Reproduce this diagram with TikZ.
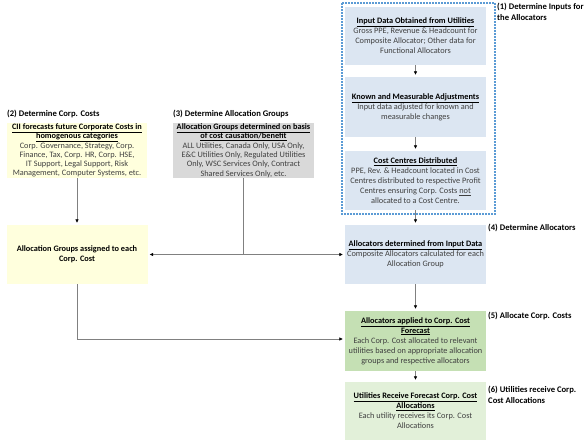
\documentclass[tikz,border=0pt]{standalone}
\usepackage{fontspec}
\setmainfont{Carlito}
\usepackage{tikz}
\usetikzlibrary{arrows.meta, calc}
\definecolor{boxBlue}{HTML}{DCE6F2}
\definecolor{boxYellow}{HTML}{FFFFDD}
\definecolor{boxGray}{HTML}{D9D9D9}
\definecolor{boxGreen}{HTML}{C5E0B4}
\definecolor{boxPale}{HTML}{E2F0D9}
\definecolor{frameBlue}{HTML}{5B9BD5}
\definecolor{bodyGray}{HTML}{404040}
\newcommand{\hd}[1]{\textbf{\underline{#1}}}

\begin{document}
\begin{tikzpicture}[x=1pt, y=-1pt,
  every node/.style={inner sep=0pt, font=\fontsize{8.3}{10}\selectfont},
  stepbox/.style={rectangle, minimum width=141pt, minimum height=59pt, align=center, text=bodyGray},
  steplabel/.style={anchor=west, align=left, font=\fontsize{8.6}{11}\selectfont\bfseries},
  link/.style={draw=black!50, line width=0.6pt, shorten >=2pt, -{Latex[black, length=3.5pt, width=3.5pt]}},
  feedline/.style={draw=black!50, line width=0.6pt}]
  \useasboundingbox (0,0) rectangle (587,447);

  % (1) inputs
  \draw[frameBlue, line width=1.1pt, dash pattern=on 2pt off 1pt] (342,3) rectangle (495,214);
  \node[stepbox, fill=boxBlue, minimum height=58pt] (inp) at (415.5,36)
    {\textcolor{black}{\hd{Input Data Obtained from Utilities}}\\Gross PPE, Revenue \& Headcount for\\Composite Allocator; Other data for\\Functional Allocators};
  \node[stepbox, fill=boxBlue, minimum height=60pt] (kma) at (415.5,107)
    {\textcolor{black}{\hd{Known and Measurable Adjustments}}\\Input data adjusted for known and\\measurable changes};
  \node[stepbox, fill=boxBlue] (ccd) at (415.5,180.5)
    {\textcolor{black}{\hd{Cost Centres Distributed}}\\PPE, Rev. \& Headcount located in Cost\\Centres distributed to respective Profit\\Centres ensuring Corp. Costs \underline{not}\\allocated to a Cost Centre.};

  % (4) - (6)
  \node[stepbox, fill=boxBlue] (alc) at (415.5,254.5)
    {\textcolor{black}{\hd{Allocators determined from Input Data}}\\Composite Allocators calculated for each\\Allocation Group};
  \node[stepbox, fill=boxGreen, minimum height=60pt] (apl) at (415.5,341)
    {\textcolor{black}{\hd{Allocators applied to Corp. Cost}}\\\textcolor{black}{\hd{Forecast}}\\Each Corp. Cost allocated to relevant\\utilities based on appropriate allocation\\groups and respective allocators};
  \node[stepbox, fill=boxPale, minimum height=58pt] (urc) at (415.5,411)
    {\textcolor{black}{\hd{Utilities Receive Forecast Corp. Cost}}\\\textcolor{black}{\hd{Allocations}}\\Each utility receives its Corp. Cost\\Allocations};

  % (2) and (3)
  \node[stepbox, fill=boxYellow, minimum width=140pt, minimum height=55pt,
    font=\fontsize{8.3}{9.3}\selectfont] (cst) at (77,150.5)
    {\textcolor{black}{\hd{CII forecasts future Corporate Costs in}}\\\textcolor{black}{\hd{homogenous categories}}\\Corp. Governance, Strategy, Corp.\\Finance, Tax, Corp. HR, Corp. HSE,\\IT Support, Legal Support, Risk\\Management, Computer Systems, etc.};
  \node[stepbox, fill=boxGray, minimum height=55pt,
    font=\fontsize{8.3}{9.3}\selectfont] (grp) at (243.5,150.5)
    {\textcolor{black}{\hd{Allocation Groups determined on basis}}\\\textcolor{black}{\hd{of cost causation/benefit}}\\ALL Utilities, Canada Only, USA Only,\\E\&C Utilities Only, Regulated Utilities\\Only, WSC Services Only, Contract\\Shared Services Only, etc.};
  \node[stepbox, fill=boxYellow, text=black, font=\fontsize{8.3}{10}\selectfont\bfseries] (asg) at (77,254.5)
    {Allocation Groups assigned to each\\Corp. Cost};

  % labels
  \node[steplabel] (l1) at (497,11.5) {(1) Determine Inputs for\\the Allocators};
  \node[steplabel] (l2) at (7,114) {(2) Determine Corp. Costs};
  \node[steplabel] (l3) at (173,114) {(3) Determine Allocation Groups};
  \node[steplabel] (l4) at (488,228) {(4) Determine Allocators};
  \node[steplabel] (l5) at (488,316) {(5) Allocate Corp. Costs};
  \node[steplabel] (l6) at (488,394.5) {(6) Utilities receive Corp.\\Cost Allocations};

  % connectors
  \draw[link] (inp) -- (kma);
  \draw[link] (kma) -- (ccd);
  \draw[link] (ccd) -- (alc);
  \draw[link] (alc) -- (apl);
  \draw[link] (apl) -- (urc);
  \draw[link] (cst) -- (asg);
  \coordinate (jn) at (grp.south |- asg.east);
  \draw[feedline] (grp.south) -- (jn);
  \draw[link, shorten <=2pt, {Latex[black, length=3.5pt, width=3.5pt]}-{Latex[black, length=3.5pt, width=3.5pt]}] (asg.east) -- (alc.west);
  \coordinate (bt) at ($(asg.south |- apl.west)+(0,-2)$);
  \draw[link] (asg.south) -- (bt) -- (bt -| apl.west);
\end{tikzpicture}
\end{document}
